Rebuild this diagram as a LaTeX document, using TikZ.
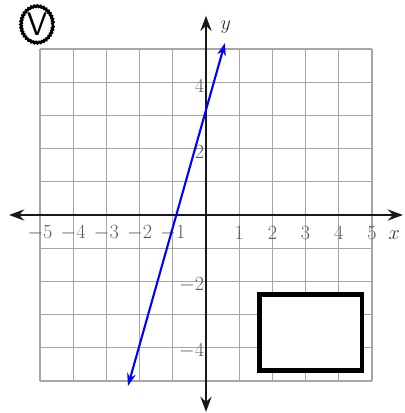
\documentclass[tikz,border=0pt]{standalone}
\usepackage{amsmath,amssymb}
\usepackage{xcolor}
\usepackage{tikz}
\usetikzlibrary{arrows.meta,decorations.pathmorphing}

\begin{document}
\begin{tikzpicture}[
  font=\fontsize{18}{18}\selectfont,
  grd/.style={gray!70, line width=0.9pt},
  ax/.style={black!90, line width=1.3pt, {Stealth[length=4.6mm,width=3.4mm,inset=1.6mm]}-{Stealth[length=4.6mm,width=3.4mm,inset=1.6mm]}},
  ln/.style={blue, line width=1.8pt, {Stealth[length=3.8mm,width=2.6mm,inset=1.2mm]}-{Stealth[length=3.8mm,width=2.6mm,inset=1.2mm]}},
  tick/.style={text=black!65, inner sep=0pt},
  ans/.style={draw, line width=3.8pt, fill=white}]
\useasboundingbox (-6.205,-5.964) rectangle (5.964,6.476);
% badge
\node[circle, minimum width=0.98cm, inner sep=0pt] (badge) at (-5.09,5.74)
  {\fontsize{28}{28}\selectfont\sffamily V};
\draw[line width=2.2pt, decorate, decoration={zigzag, segment length=2.6pt, amplitude=0.55pt}]
  (badge.center) ellipse (0.48cm and 0.55cm);
% grid
\draw[grd] (-5,-5) grid (5,5);
% axes
\coordinate (xl) at (-5.93,0);
\coordinate (xr) at (5.93,0);
\coordinate (yb) at (0,-5.93);
\coordinate (yt) at (0,6.0);
\draw[ax] (xl) -- (xr);
\draw[ax] (yb) -- (yt);
\node[tick, text=black!80] (xlab) at (5.67,-0.6) {$x$};
\node[tick, text=black!80] (ylab) at (0.6,5.66) {$y$};
% tick labels
\foreach \n in {-5,-4,-3,-2,-1,1,2,3,4,5}
  \node[tick] (xt\n) at (\n,-0.55) {$\n$};
\foreach \n in {-4,-2,2,4}
  \node[tick, anchor=east] (yt\n) at (-0.05,\n-0.1) {$\n$};
% line
\coordinate (lb) at (-2.35,-5.15);
\coordinate (lt) at (0.57,5.18);
\draw[ln] (lb) -- (lt);
% answer box
\node[ans, minimum width=3.085cm, minimum height=2.3cm] (box) at (3.148,-3.54) {};
\end{tikzpicture}
\end{document}
